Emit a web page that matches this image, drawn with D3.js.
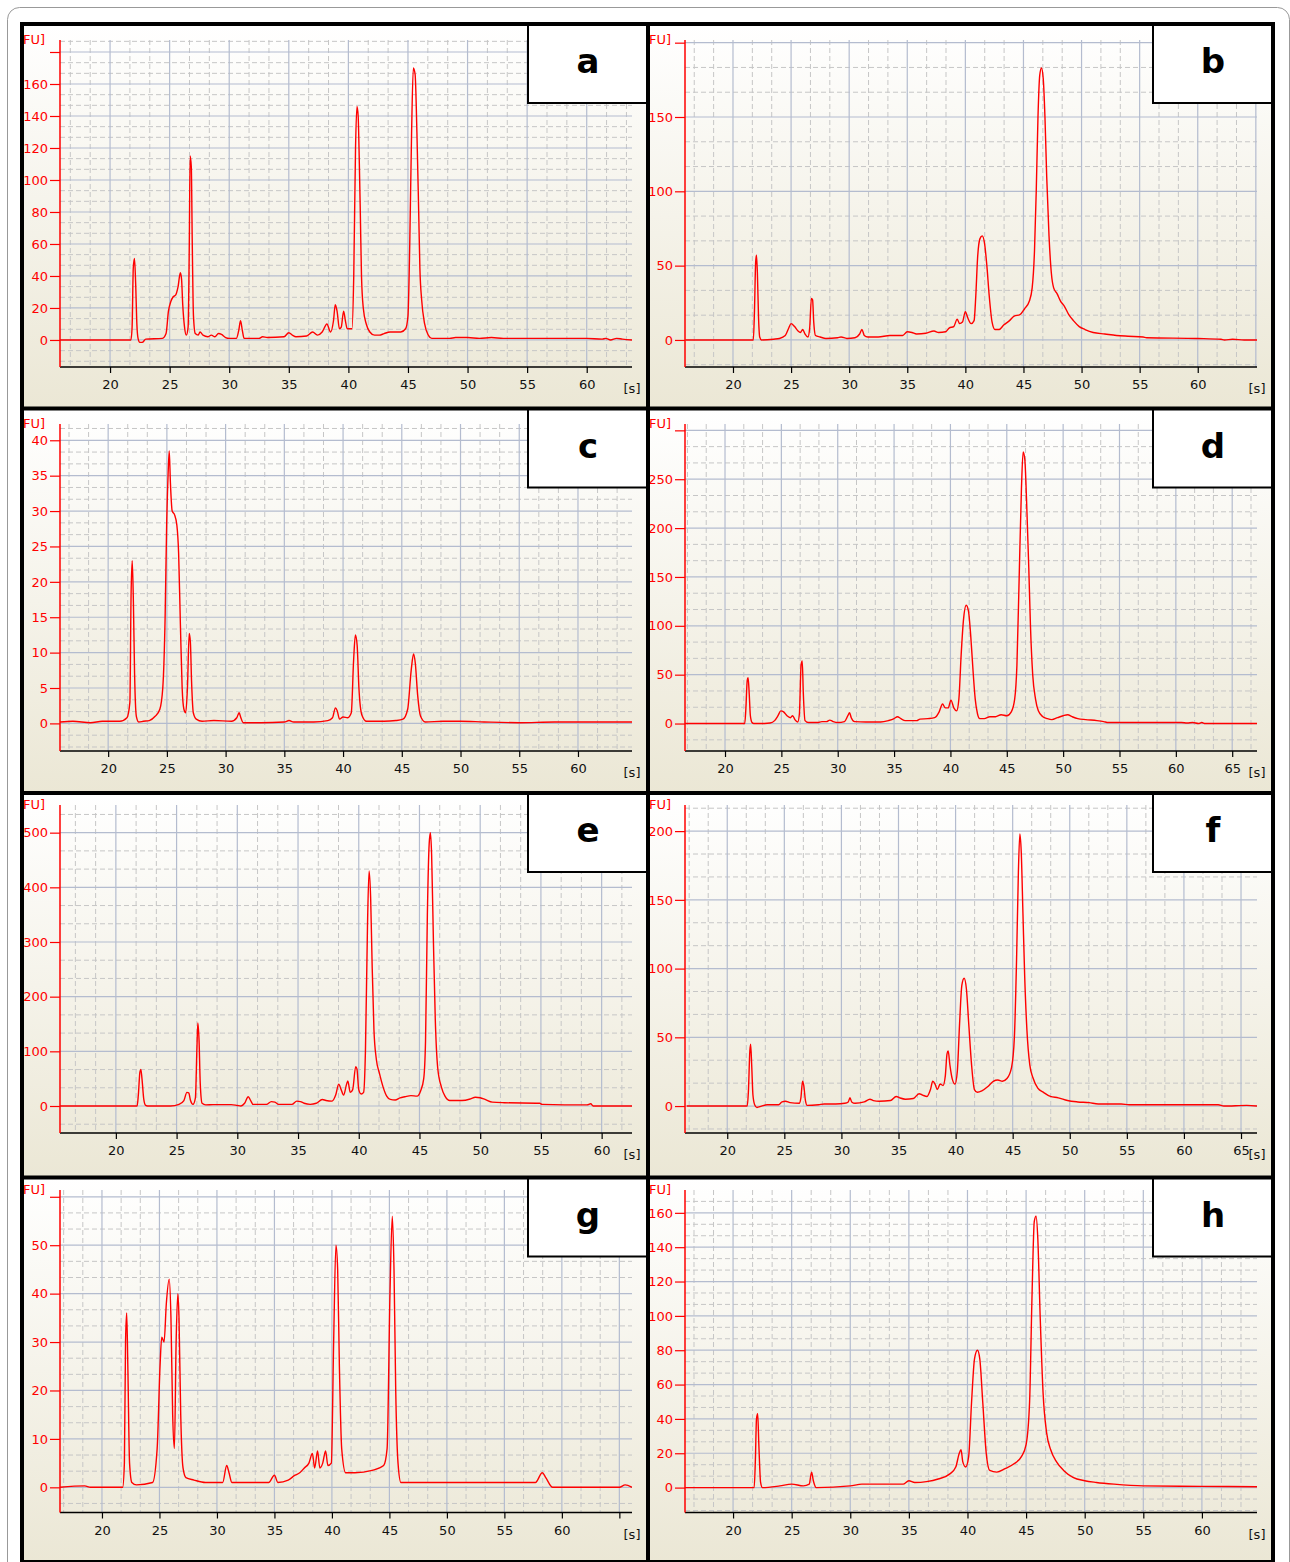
<!DOCTYPE html>
<html>
<head>
<meta charset="utf-8">
<script src="https://cdn.jsdelivr.net/npm/d3@7"></script>
<style>
  body { margin: 0; background: #fff; }
  svg { display: block; }
  text { font-family: "DejaVu Sans", Verdana, sans-serif; }
</style>
</head>
<body>
<svg id="chart"></svg>
<script>
// ---- data: electropherogram traces, [time s, FU] ----
const traceA = [
  [15.8,0],[21.75,0],[21.85,8],[21.95,45],[22.05,51],[22.15,35],[22.25,10],[22.35,1],[22.5,-1.5],[22.7,-1.5],
  [23,0.5],[24.4,1],[24.7,4],[24.9,18],[25.1,24],[25.3,27],[25.5,28],[25.7,33],[25.9,42],[26.0,38],[26.1,22],
  [26.25,8],[26.4,3],[26.55,8],[26.65,60],[26.72,115],[26.82,108],[26.9,60],[27.0,15],[27.15,4],[27.4,3],
  [27.55,5],[27.8,3],[28.2,2],[28.5,3],[28.8,2],[29.1,4],[29.35,3.5],[29.7,1.5],[30.0,1],[30.6,1],[30.8,6],
  [30.95,12],[31.1,6],[31.25,1],[32.5,1],[32.8,2],[33.2,1.5],[34.6,2],[35.0,4.5],[35.3,3],[35.6,2],[36.5,2.5],
  [37.0,5],[37.4,3],[37.8,5],[38.2,10],[38.5,5],[38.75,12],[38.9,22],[39.05,18],[39.25,7],[39.4,8],[39.6,18],
  [39.75,12],[39.9,7],[40.3,7],[40.45,40],[40.6,120],[40.72,146],[40.82,140],[40.92,110],[41.0,80],[41.1,40],
  [41.25,20],[41.5,10],[41.8,5],[42.2,3],[42.6,3],[43,4],[43.5,5],[44.4,5],[44.8,7],[45.0,15],[45.15,60],
  [45.3,128],[45.45,170],[45.6,166],[45.75,130],[45.9,80],[46.0,45],[46.15,25],[46.4,10],[46.7,3],[47.0,1],
  [48.5,1],[49,1.5],[50,1.5],[51,1],[52,1.5],[53,1],[60,1],[61.3,0.5],[61.6,1],[62,0],[62.5,1],[63,0.5],[63.8,0]
];
const traceB = [
  [15.9,0],[21.75,0],[21.85,20],[21.95,52],[22.02,57],[22.1,45],[22.2,15],[22.3,2],[22.45,0],[23.5,0.5],
  [24.0,1],[24.5,3],[24.8,8],[25.0,11],[25.3,9],[25.6,6],[25.8,5],[26.0,7],[26.2,4],[26.45,2],[26.6,8],
  [26.75,28],[26.85,27],[26.95,12],[27.1,3],[27.5,2],[28.0,1],[29.0,1.5],[29.3,2],[29.8,1],[30.5,1.5],
  [30.9,4],[31.1,7],[31.3,3],[31.6,2],[32.5,2],[33.5,3],[34.6,3],[35.0,5.5],[35.4,5],[35.8,4],[36.6,4.5],
  [37.3,6],[37.7,5],[38.3,5.5],[38.6,8],[39.0,9],[39.3,14],[39.5,11],[39.75,12],[40.0,19],[40.2,15],[40.5,11],
  [40.75,13],[40.9,30],[41.05,55],[41.25,68],[41.45,70],[41.65,65],[41.85,50],[42.05,30],[42.3,12],[42.55,7],
  [42.9,7],[43.3,10],[43.8,13],[44.2,16],[44.7,17],[45.1,21],[45.5,26],[45.75,35],[45.95,60],[46.1,100],
  [46.25,150],[46.4,178],[46.55,183],[46.7,176],[46.85,150],[47.0,110],[47.2,70],[47.4,45],[47.6,35],
  [47.9,31],[48.2,26],[48.5,23],[48.9,17],[49.3,13],[49.8,9],[50.3,7],[51.0,5],[52.0,4],[53.0,3],[54.0,2.5],
  [55.3,2],[55.6,1.5],[60,1],[62,0.5],[62.3,0],[63,0.5],[64,0],[65.1,0]
];
const traceC = [
  [15.9,0.2],[17,0.3],[18.5,0.1],[19.5,0.3],[21.0,0.3],[21.6,0.8],[21.85,3],[21.95,18],[22.05,23],[22.15,17],
  [22.25,7],[22.4,1],[22.6,0.2],[23.0,0.3],[23.5,0.4],[24.0,1],[24.4,2],[24.65,5],[24.85,15],[24.98,28],
  [25.1,35],[25.2,38.5],[25.3,34],[25.45,30],[25.65,29.5],[25.85,28],[26.0,24],[26.15,14],[26.3,5],[26.45,2],
  [26.6,1.5],[26.75,5],[26.9,12.7],[27.0,11.5],[27.1,6],[27.25,1.5],[27.5,0.6],[28,0.3],[29,0.4],[30.5,0.3],
  [30.95,0.8],[31.15,1.5],[31.3,0.8],[31.5,0.1],[33,0.1],[35,0.2],[35.4,0.4],[35.8,0.2],[37.5,0.2],[38.7,0.4],
  [39.1,0.8],[39.35,2.2],[39.5,1.8],[39.7,0.6],[40.0,0.9],[40.4,0.8],[40.7,1.5],[40.9,9],[41.05,12.5],
  [41.2,11],[41.35,5],[41.6,1.2],[42.0,0.3],[43.5,0.3],[44.5,0.4],[45.1,0.6],[45.5,2],[45.8,7.5],[46.0,9.8],
  [46.15,8.5],[46.35,4],[46.6,1],[47,0.2],[48.5,0.3],[50,0.3],[52,0.2],[55,0.1],[58,0.2],[61,0.2],[64.6,0.2]
];
const traceD = [
  [16.45,0],[21.75,0],[21.85,15],[21.97,44],[22.05,47],[22.15,30],[22.25,8],[22.4,1],[22.55,0],[23.5,0],
  [24.0,0.5],[24.4,3],[24.7,8],[24.95,13],[25.2,12],[25.5,8],[25.8,6],[26.0,8],[26.2,4],[26.45,1.5],[26.6,10],
  [26.75,60],[26.85,64],[26.95,30],[27.1,3],[27.4,1],[28.2,1],[28.6,2],[29.0,2],[29.3,3.5],[29.6,2],[30.0,1],
  [30.6,2],[30.9,8],[31.05,11],[31.2,6],[31.5,2],[32.5,1.5],[33.8,1.5],[34.5,3],[35.0,5],[35.3,7],[35.6,5],
  [36.0,3],[37.0,3],[37.3,4.5],[38.0,5],[38.6,6],[39.0,12],[39.3,20],[39.55,16],[39.8,16],[40.05,24],
  [40.3,16],[40.55,13],[40.75,25],[40.95,70],[41.15,105],[41.4,121],[41.6,115],[41.8,90],[42.0,55],[42.2,25],
  [42.4,10],[42.6,5],[43.0,5],[43.5,7],[44.0,7],[44.5,9],[45.0,8],[45.4,12],[45.7,25],[45.9,60],[46.1,150],
  [46.3,240],[46.45,278],[46.6,270],[46.75,230],[46.95,160],[47.1,100],[47.3,50],[47.55,25],[47.8,13],
  [48.2,7],[48.6,5],[49.0,4],[49.5,6],[50.0,8],[50.4,9],[50.8,7],[51.3,5],[52,4],[53,3],[53.6,2],[54.0,1],
  [58,1],[60.5,1],[61,0.5],[61.5,1],[62,0],[62.3,1],[62.6,0],[67.2,0]
];
const traceE = [
  [15.4,0],[21.75,0],[21.85,20],[21.98,62],[22.06,67],[22.15,50],[22.3,12],[22.45,1],[22.6,0],[24.5,0],
  [25.2,3],[25.6,10],[25.85,25],[26.0,24],[26.15,10],[26.35,3],[26.55,15],[26.68,110],[26.75,152],[26.85,120],
  [26.95,40],[27.1,5],[27.4,2],[28,2.5],[29.5,2.5],[30.0,1],[30.3,0],[30.6,5],[30.9,17],[31.1,10],[31.3,3],
  [32.4,3],[32.8,8],[33.1,7],[33.4,3],[34.5,3],[34.9,9],[35.2,8],[35.5,5],[36.0,3],[36.5,5],[37.0,12],
  [37.3,10],[37.8,9],[38.1,20],[38.35,40],[38.55,30],[38.75,20],[39.0,40],[39.1,46],[39.3,25],[39.5,30],
  [39.75,72],[39.85,68],[40.0,30],[40.2,22],[40.4,25],[40.55,100],[40.72,330],[40.85,430],[40.98,380],
  [41.1,260],[41.25,140],[41.45,85],[41.7,60],[42.0,35],[42.3,18],[42.6,12],[43.0,11],[43.4,15],[43.8,17],
  [44.3,19],[44.8,18],[45.1,28],[45.35,50],[45.5,120],[45.65,350],[45.8,480],[45.9,500],[46.0,460],
  [46.15,300],[46.3,160],[46.5,70],[46.8,35],[47.1,18],[47.5,10],[48.5,10],[49.2,13],[49.6,16],[50.0,15],
  [50.4,12],[51.0,7],[52,6],[54.9,5],[55.1,3],[58.8,2],[59.1,4],[59.3,0],[62.5,0]
];
const traceF = [
  [16.45,0],[21.75,0],[21.85,10],[21.98,40],[22.05,45],[22.15,28],[22.25,8],[22.4,1],[22.6,-1],[23.0,0],
  [23.5,1],[24.5,1],[24.8,3],[25.1,3.5],[25.5,2.5],[26.3,2],[26.45,6],[26.6,18],[26.7,15],[26.85,4],[27.0,0.5],
  [28,1],[28.5,1.5],[29.5,1.5],[30.3,2],[30.6,3],[30.75,6],[30.9,3],[31.2,2],[32,3],[32.5,5],[32.8,4],
  [33.3,3.5],[34.3,4],[34.8,7],[35.1,6],[35.6,5],[36.3,5.5],[36.8,9],[37.1,8],[37.5,7],[37.8,12],[38.0,18],
  [38.2,16],[38.4,12],[38.65,16],[38.9,15],[39.1,22],[39.25,38],[39.35,40],[39.5,30],[39.7,20],[39.95,16],
  [40.15,25],[40.35,60],[40.55,88],[40.75,93],[40.95,85],[41.15,60],[41.4,30],[41.65,12],[41.9,10],[42.3,11],
  [42.8,14],[43.3,18],[43.7,19],[44.1,18],[44.5,20],[44.9,28],[45.15,50],[45.35,110],[45.5,170],[45.63,198],
  [45.75,185],[45.9,140],[46.05,95],[46.25,55],[46.5,30],[46.8,20],[47.2,13],[47.7,10],[48.3,7],[49,6],
  [49.8,4],[50.7,3],[51.7,2.5],[52.5,1.5],[54.5,1.5],[55.2,1],[63,1],[63.5,0],[65.5,0.5],[66.4,0]
];
const traceG = [
  [16.35,0],[18.5,0.3],[19,0],[21.8,0],[21.95,5],[22.05,30],[22.15,36],[22.25,25],[22.4,5],[22.6,1],[23,0.5],
  [24.4,1],[24.8,8],[25.05,25],[25.2,31],[25.4,30],[25.6,38],[25.85,43],[26.0,35],[26.15,15],[26.3,8],
  [26.45,30],[26.6,40],[26.7,35],[26.85,15],[27.05,4],[27.3,2],[28,1.5],[29,1],[30.5,1],[30.85,4.5],
  [31.05,3],[31.3,1],[34.5,1],[35.0,2.5],[35.3,1],[36.2,1.5],[36.8,2.5],[37.2,3],[37.6,4],[38.0,5],[38.3,7],
  [38.5,4],[38.75,7.5],[38.95,4],[39.2,5],[39.45,7.5],[39.65,4.5],[39.95,5],[40.15,30],[40.35,50],[40.5,45],
  [40.65,25],[40.85,8],[41.2,3],[42,3],[43.5,3.5],[44.5,4.5],[44.8,8],[45.05,40],[45.25,56],[45.4,45],
  [45.55,20],[45.75,5],[46.0,1],[49,1],[57.7,1],[58.3,3],[58.6,2],[59.2,0],[65,0],[65.5,0.5],[66.1,0]
];
const traceH = [
  [15.9,0],[21.8,0],[21.9,15],[22.0,40],[22.1,43],[22.2,25],[22.35,3],[22.5,0],[24,1],[25,2],[26,1],
  [26.5,2],[26.7,9],[26.85,4],[27.1,0],[30,1],[31,2],[34.5,2],[35,4],[35.5,3],[36.5,3.5],[37.5,5],[38.5,8],
  [39.0,12],[39.3,20],[39.45,22],[39.6,15],[39.85,12],[40.1,18],[40.35,50],[40.6,75],[40.85,80],[41.05,75],
  [41.3,50],[41.6,20],[41.9,10],[42.5,9],[43.2,11],[44,14],[44.6,18],[45.0,25],[45.3,50],[45.5,110],
  [45.7,155],[45.85,158],[46.0,145],[46.2,100],[46.45,55],[46.75,32],[47.1,22],[47.6,15],[48.2,10],[49,6],
  [50,4],[51,3],[52.5,2],[55,1],[60,0.7],[64.7,0.5]
];

const letters = ['a', 'b', 'c', 'd', 'e', 'f', 'g', 'h'];
const traces = [traceA, traceB, traceC, traceD, traceE, traceF, traceG, traceH];

// axis ranges (s and FU) visible in each panel
const xDomains = [[15.8,63.8],[15.87,65.1],[15.9,64.6],[16.45,67.2],[15.4,62.5],[16.3,66.4],[16.35,66.1],[15.9,64.7]];
const yDomains = [[-16.9,187.5],[-18.2,201.8],[-3.9,42.3],[-28.1,306.5],[-49.4,550.6],[-19.6,219],[-5.2,61.4],[-14.5,173.3]];

const xTicks60 = [20, 25, 30, 35, 40, 45, 50, 55, 60];
const xTicks65 = [20, 25, 30, 35, 40, 45, 50, 55, 60, 65];
const xTicks = [xTicks60, xTicks60, xTicks60, xTicks65, xTicks60, xTicks65, xTicks65, xTicks60];
const xLabels = [xTicks60, xTicks60, xTicks60, xTicks65, xTicks60, xTicks65, xTicks60, xTicks60];

const yTicks = [
  [0, 20, 40, 60, 80, 100, 120, 140, 160, 180],
  [0, 50, 100, 150, 200],
  [0, 5, 10, 15, 20, 25, 30, 35, 40],
  [0, 50, 100, 150, 200, 250, 300],
  [0, 100, 200, 300, 400, 500],
  [0, 50, 100, 150, 200],
  [0, 10, 20, 30, 40, 50, 60],
  [0, 20, 40, 60, 80, 100, 120, 140, 160]
];
const yLabels = [
  [0, 20, 40, 60, 80, 100, 120, 140, 160],
  [0, 50, 100, 150],
  [0, 5, 10, 15, 20, 25, 30, 35, 40],
  [0, 50, 100, 150, 200, 250],
  [0, 100, 200, 300, 400, 500],
  [0, 50, 100, 150, 200],
  [0, 10, 20, 30, 40, 50],
  [0, 20, 40, 60, 80, 100, 120, 140, 160]
];

// ---- layout ----
const W = 1290, H = 1562;
const colX = [22, 648, 1273];
const rowY = [24, 408.5, 793, 1177.5, 1562];
const plotL = [60, 685], plotR = [632, 1257];
const plotT = [40, 424, 805, 1190];
const plotB = [367, 751, 1133, 1512.5];
const fontSize = 13;

const svg = d3.select('#chart').attr('width', W).attr('height', H);
const defs = svg.append('defs');

const grad = defs.append('linearGradient')
  .attr('id', 'bg').attr('x1', 0).attr('y1', 0).attr('x2', 0).attr('y2', 1);
grad.append('stop').attr('offset', '0%').attr('stop-color', '#ffffff');
grad.append('stop').attr('offset', '100%').attr('stop-color', '#ebe7d5');

// outer thin rounded border
svg.append('rect')
  .attr('x', 7.5).attr('y', 7.5).attr('width', W - 8).attr('height', H + 40)
  .attr('rx', 12).attr('fill', 'none').attr('stroke', '#999').attr('stroke-width', 1);

letters.forEach((letter, i) => {
  const c = i % 2, r = Math.floor(i / 2);
  const px0 = colX[c], px1 = colX[c + 1], py0 = rowY[r], py1 = rowY[r + 1];
  const left = plotL[c], right = plotR[c], top = plotT[r], bottom = plotB[r];

  const g = svg.append('g');

  g.append('rect')
    .attr('x', px0).attr('y', py0).attr('width', px1 - px0).attr('height', py1 - py0)
    .attr('fill', 'url(#bg)');

  const x = d3.scaleLinear().domain(xDomains[i]).range([left, right]);
  const y = d3.scaleLinear().domain(yDomains[i]).range([bottom, top]);

  // grid: solid at ticks, dashed at thirds
  const xs = 5, ys = yTicks[i][1] - yTicks[i][0];
  const xk = d3.range(Math.ceil(xDomains[i][0] * 3 / xs), Math.floor(xDomains[i][1] * 3 / xs) + 1);
  const yk = d3.range(Math.ceil(yDomains[i][0] * 3 / ys), Math.floor(yDomains[i][1] * 3 / ys) + 1);

  const grid = g.append('g');
  grid.selectAll('line.vmin').data(xk.filter(k => k % 3 !== 0)).join('line')
    .attr('x1', k => x(k * xs / 3)).attr('x2', k => x(k * xs / 3))
    .attr('y1', top).attr('y2', bottom)
    .attr('stroke', '#c6c6c6').attr('stroke-dasharray', '5,3');
  grid.selectAll('line.hmin').data(yk.filter(k => k % 3 !== 0)).join('line')
    .attr('x1', left).attr('x2', right)
    .attr('y1', k => y(k * ys / 3)).attr('y2', k => y(k * ys / 3))
    .attr('stroke', '#c6c6c6').attr('stroke-dasharray', '5,3');
  grid.selectAll('line.vmaj').data(xk.filter(k => k % 3 === 0)).join('line')
    .attr('x1', k => x(k * xs / 3)).attr('x2', k => x(k * xs / 3))
    .attr('y1', top).attr('y2', bottom)
    .attr('stroke', '#b4bccf').attr('stroke-width', 1.2);
  grid.selectAll('line.hmaj').data(yk.filter(k => k % 3 === 0)).join('line')
    .attr('x1', left).attr('x2', right)
    .attr('y1', k => y(k * ys / 3)).attr('y2', k => y(k * ys / 3))
    .attr('stroke', '#b4bccf').attr('stroke-width', 1.2);

  // trace
  const clipId = 'clip' + i;
  defs.append('clipPath').attr('id', clipId).append('rect')
    .attr('x', left).attr('y', top).attr('width', right - left).attr('height', bottom - top);
  g.append('path')
    .datum(traces[i])
    .attr('clip-path', `url(#${clipId})`)
    .attr('fill', 'none').attr('stroke', '#ff0000').attr('stroke-width', 1.4)
    .attr('stroke-linejoin', 'round')
    .attr('d', d3.line().x(d => x(d[0])).y(d => y(d[1])).curve(d3.curveMonotoneX));

  // x axis (black)
  const xa = g.append('g').attr('transform', `translate(0,${bottom})`)
    .call(d3.axisBottom(x).tickValues(xTicks[i]).tickSize(6).tickPadding(7)
      .tickFormat(v => xLabels[i].includes(v) ? v : ''));
  xa.select('.domain').attr('d', `M${left},0H${right}`).attr('stroke', '#000').attr('stroke-width', 1.5);
  xa.selectAll('.tick line').attr('stroke', '#000').attr('stroke-width', 1.2);
  xa.selectAll('.tick text').attr('font-size', fontSize).attr('fill', '#111')
    .attr('font-family', '"DejaVu Sans", Verdana, sans-serif');
  g.append('text')
    .attr('x', right).attr('y', bottom + 26)
    .attr('text-anchor', 'middle').attr('font-size', fontSize).attr('fill', '#111')
    .text('[s]');

  // y axis (red)
  const ya = g.append('g').attr('transform', `translate(${left},0)`)
    .call(d3.axisLeft(y).tickValues(yTicks[i]).tickSize(10).tickPadding(2)
      .tickFormat(v => yLabels[i].includes(v) ? v : ''));
  ya.select('.domain').attr('d', `M0,${top}V${bottom}`).attr('stroke', '#ff0000').attr('stroke-width', 1.5);
  ya.selectAll('.tick line').attr('stroke', '#ff0000').attr('stroke-width', 1.2);
  ya.selectAll('.tick text').attr('font-size', fontSize).attr('fill', '#ff0000')
    .attr('font-family', '"DejaVu Sans", Verdana, sans-serif');
  g.append('text')
    .attr('x', px0 + 1).attr('y', top + 4)
    .attr('font-size', fontSize).attr('fill', '#ff0000')
    .text('FU]');

  // panel letter box
  g.append('rect')
    .attr('x', px1 - 120).attr('y', py0).attr('width', 120).attr('height', 79)
    .attr('fill', '#fff').attr('stroke', '#000').attr('stroke-width', 2);
  g.append('text')
    .attr('x', px1 - 60).attr('y', py0 + 49)
    .attr('text-anchor', 'middle')
    .attr('font-family', '"Liberation Sans", Arial, sans-serif')
    .attr('font-weight', 'bold').attr('font-size', 34).attr('fill', '#000')
    .text(letter);
});

// thick black frame lines
const frame = svg.append('g').attr('stroke', '#000').attr('stroke-width', 4);
colX.forEach(cx => frame.append('line').attr('x1', cx).attr('x2', cx).attr('y1', rowY[0] - 2).attr('y2', H));
rowY.forEach(ry => frame.append('line').attr('x1', colX[0] - 2).attr('x2', colX[2] + 2).attr('y1', ry).attr('y2', ry));
</script>
</body>
</html>
